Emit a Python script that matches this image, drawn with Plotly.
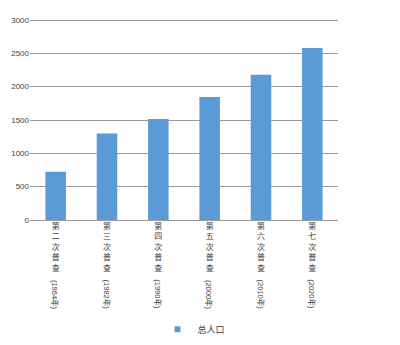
import plotly.graph_objects as go

categories = ["第二次普查", "第三次普查", "第四次普查", "第五次普查", "第六次普查", "第七次普查"]
years = ["(1964年)", "(1982年)", "(1990年)", "(2000年)", "(2010年)", "(2020年)"]
population = [723, 1298, 1515, 1845, 2177, 2580]
series_name = "总人口"

FONT = "Liberation Sans, Arial, Noto Sans CJK SC, sans-serif"
BLUE = "#5b9bd5"

ticktext = ["<br>".join(list(c)) for c in categories]

fig = go.Figure()
fig.add_trace(go.Bar(
    x=categories, y=population, name=series_name,
    marker=dict(color=BLUE, line=dict(width=0)),
    width=0.4, showlegend=False,
))
# legend entry with small square marker
fig.add_trace(go.Scatter(
    x=[None], y=[None], mode="markers", name=series_name,
    marker=dict(symbol="square", size=6, color=BLUE),
    showlegend=True,
))

annotations = []
for c, yr in zip(categories, years):
    annotations.append(dict(
        x=c, xref="x", y=-0.285, yref="paper", yanchor="top",
        text=yr, textangle=90, showarrow=False,
        font=dict(family=FONT, size=7.5, color="#404040"),
    ))

fig.update_layout(
    width=400, height=345,
    margin=dict(l=30, r=62, t=18, b=125, autoexpand=False),
    paper_bgcolor="white", plot_bgcolor="white",
    font=dict(family=FONT, size=9, color="#404040"),
    bargap=0.6,
    showlegend=True,
    legend=dict(
        orientation="h", x=0.485, xref="container", xanchor="center",
        y=0.046, yref="container", yanchor="middle",
        font=dict(family=FONT, size=9, color="#404040"),
        itemwidth=30,
    ),
    xaxis=dict(
        tickmode="array", tickvals=categories, ticktext=ticktext,
        tickangle=0, showgrid=False, showline=False, ticks="",
        tickfont=dict(family=FONT, size=8, color="#404040"),
        automargin=False,
    ),
    yaxis=dict(
        range=[0, 3030], tickvals=[0, 500, 1000, 1500, 2000, 2500, 3000],
        showgrid=True, gridcolor="#9a9a9a",
        gridwidth=1, zeroline=True, zerolinecolor="#9a9a9a", zerolinewidth=1,
        showline=False, ticks="", automargin=False,
        tickfont=dict(family=FONT, size=8, color="#404040"),
    ),
    annotations=annotations,
)

fig.write_html("out.html")
